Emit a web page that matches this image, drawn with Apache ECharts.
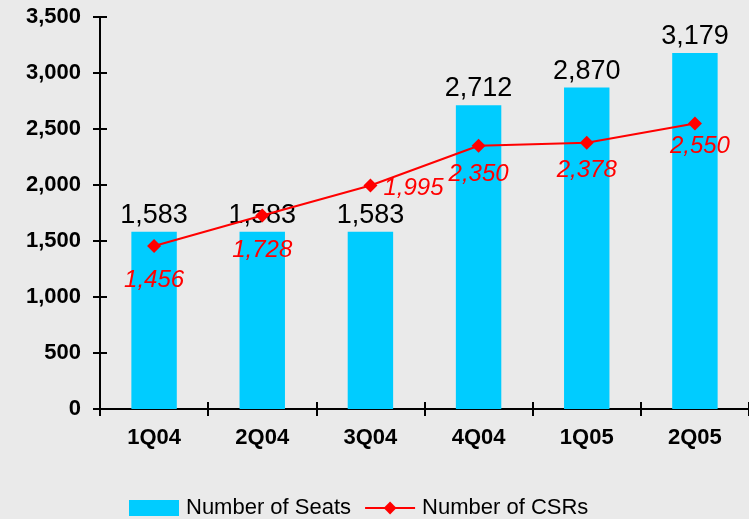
<!DOCTYPE html>
<html>
<head>
<meta charset="utf-8">
<script src="https://cdn.jsdelivr.net/npm/echarts@6/dist/echarts.min.js"></script>
<style>
  html, body { margin: 0; padding: 0; background: #eaeaea; }
  #chart { width: 749px; height: 519px; }
</style>
</head>
<body>
<div id="chart"></div>
<script>
// Quarterly seats vs. customer service reps
const quarters = ['1Q04', '2Q04', '3Q04', '4Q04', '1Q05', '2Q05'];
const seats = [1583, 1583, 1583, 2712, 2870, 3179];
const csrs = [1456, 1728, 1995, 2350, 2378, 2550];
const yTicks = [0, 500, 1000, 1500, 2000, 2500, 3000, 3500];

// where each CSR value label sits relative to its marker
const csrLabelPlacement = [
  { position: 'bottom', distance: 15 },
  { position: 'bottom', distance: 16 },
  { position: 'right', distance: 6, offset: [0, 3] },
  { position: 'bottom', distance: 10 },
  { position: 'bottom', distance: 9 },
  { position: 'bottom', distance: 4, offset: [5, 0] }
];

const fmt = v => v.toLocaleString('en-US');
const FONT = 'Liberation Sans, Arial, sans-serif';
const axisBlack = { lineStyle: { color: '#000', width: 2 } };

const chart = echarts.init(document.getElementById('chart'), null, { renderer: 'canvas' });

chart.setOption({
  backgroundColor: '#eaeaea',
  animation: false,
  textStyle: { fontFamily: FONT },
  grid: { left: 100, right: 0, top: 17, bottom: 110, containLabel: false },
  legend: {
    left: 129,
    top: 497,
    padding: 0,
    itemWidth: 50,
    itemHeight: 16,
    itemGap: 13,
    textStyle: { fontSize: 22, color: '#000', fontFamily: FONT, padding: [0, 0, 0, 2] },
    data: [
      { name: 'Number of Seats', icon: 'rect' },
      { name: 'Number of CSRs' }
    ]
  },
  xAxis: [
    {
      type: 'category',
      data: quarters,
      axisLine: axisBlack,
      axisTick: { show: true, length: 7, lineStyle: { color: '#000', width: 2 } },
      axisLabel: { fontSize: 22, fontWeight: 'bold', color: '#000', margin: 18, fontFamily: FONT }
    },
    {
      type: 'category',
      data: quarters,
      position: 'bottom',
      axisLine: { show: false },
      axisTick: { show: true, inside: true, length: 7, lineStyle: { color: '#000', width: 2 } },
      axisLabel: { show: false }
    }
  ],
  yAxis: [
    {
      type: 'value',
      min: yTicks[0],
      max: yTicks[yTicks.length - 1],
      interval: yTicks[1] - yTicks[0],
      axisLine: { show: true, lineStyle: { color: '#000', width: 2 } },
      axisTick: { show: true, length: 7, lineStyle: { color: '#000', width: 2 } },
      splitLine: { show: false },
      axisLabel: {
        fontSize: 22, fontWeight: 'bold', color: '#000', margin: 19, fontFamily: FONT,
        formatter: v => fmt(v)
      }
    },
    {
      type: 'value',
      min: yTicks[0],
      max: yTicks[yTicks.length - 1],
      interval: yTicks[1] - yTicks[0],
      position: 'left',
      axisLine: { show: false },
      axisTick: { show: true, inside: true, length: 7, lineStyle: { color: '#000', width: 2 } },
      splitLine: { show: false },
      axisLabel: { show: false }
    }
  ],
  series: [
    {
      name: 'Number of Seats',
      type: 'bar',
      data: seats,
      barWidth: '42%',
      itemStyle: { color: '#00ccff' },
      label: {
        show: true,
        position: 'top',
        distance: 3,
        fontSize: 27,
        color: '#000',
        fontFamily: FONT,
        formatter: p => fmt(p.value)
      }
    },
    {
      name: 'Number of CSRs',
      type: 'line',
      data: csrs.map((v, i) => ({
        value: v,
        label: csrLabelPlacement[i]
      })),
      symbol: 'diamond',
      symbolSize: 14,
      itemStyle: { color: '#ff0000' },
      lineStyle: { color: '#ff0000', width: 2 },
      z: 5,
      label: {
        show: true,
        fontSize: 24,
        fontStyle: 'italic',
        color: '#ff0000',
        fontFamily: FONT,
        formatter: p => fmt(p.value)
      }
    }
  ]
});
</script>
</body>
</html>
